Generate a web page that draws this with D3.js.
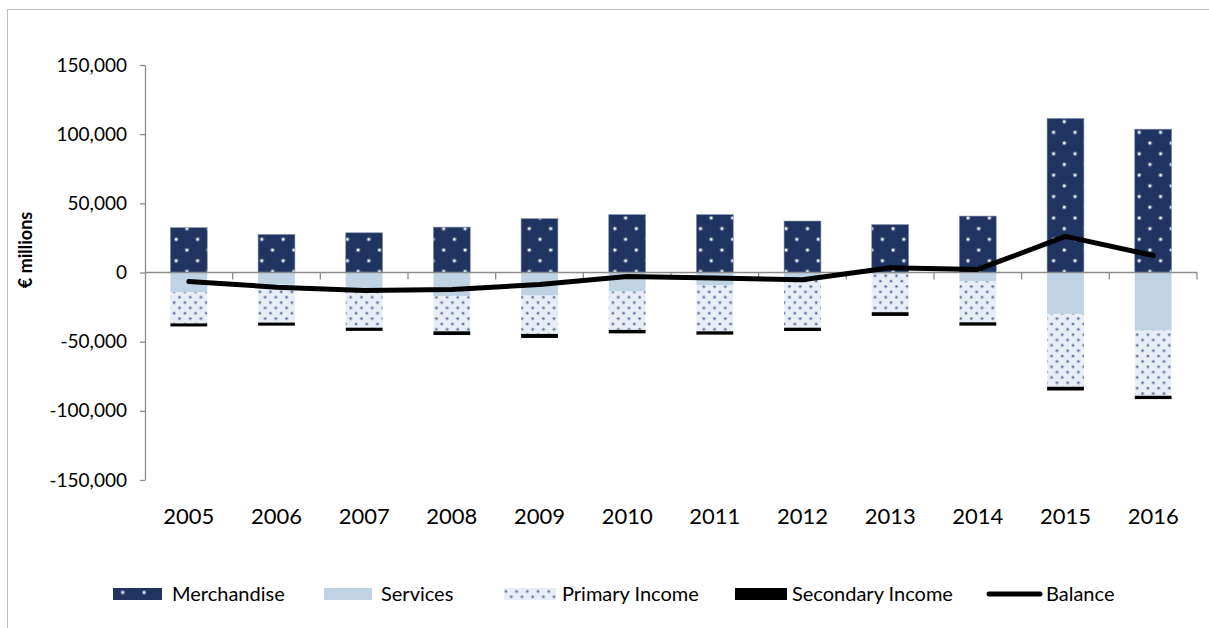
<!DOCTYPE html>
<html>
<head>
<meta charset="utf-8">
<script src="https://cdn.jsdelivr.net/npm/d3@7"></script>
<style>
  html, body { margin: 0; padding: 0; background: #ffffff; }
  svg { display: block; }
  text { font-family: Lato, "Open Sans", sans-serif; fill: #000; }
</style>
</head>
<body>
<svg id="chart" width="1209" height="628"></svg>
<script>
// ---- Data (€ millions) ----
const years = ["2005","2006","2007","2008","2009","2010","2011","2012","2013","2014","2015","2016"];
const merchandise = [32400, 27500, 28700, 32800, 38900, 41800, 41800, 37200, 34600, 40800, 111300, 103600];
const services    = [-14300, -8900, -11400, -17100, -16700, -13800, -9400, -3900, -1000, -6500, -29900, -42000];
const primaryIncome   = [-22500, -27300, -28500, -25400, -27700, -27700, -33100, -36000, -27700, -29500, -52700, -47100];
const secondaryIncome = [-2200, -2200, -2300, -2700, -2900, -2500, -2400, -2400, -2700, -2400, -2700, -2400];
const balance = [-6500, -10600, -13000, -12300, -8700, -2900, -3900, -5300, 3400, 2200, 26100, 12300];
const yTicks = [-150000, -100000, -50000, 0, 50000, 100000, 150000];
const legendLabels = ["Merchandise", "Services", "Primary Income", "Secondary Income", "Balance"];

const svg = d3.select("#chart");
const navy = "#1f3461", svc = "#bfd3e5", primBg = "#e9eef6", axisGrey = "#8c8c8c";

// outer frame
svg.append("rect").attr("x", 7.5).attr("y", 9.5).attr("width", 1400).attr("height", 800)
  .attr("fill", "none").attr("stroke", "#bcbcbc").attr("stroke-width", 1);

// patterns
const defs = svg.append("defs");
const pm = defs.append("pattern").attr("id", "pMerch").attr("patternUnits", "userSpaceOnUse")
  .attr("width", 21.4).attr("height", 21.4);
pm.append("rect").attr("width", 21.4).attr("height", 21.4).attr("fill", navy);
[[5, 4], [15.7, 14.7]].forEach(([cx, cy]) => {
  pm.append("circle").attr("cx", cx).attr("cy", cy).attr("r", 2.4).attr("fill", "#ffffff").attr("opacity", 0.3);
  pm.append("circle").attr("cx", cx).attr("cy", cy).attr("r", 1.3).attr("fill", "#ffffff").attr("opacity", 0.95);
});
const pp = defs.append("pattern").attr("id", "pPrim").attr("patternUnits", "userSpaceOnUse")
  .attr("width", 10.7).attr("height", 10.7);
pp.append("rect").attr("width", 10.7).attr("height", 10.7).attr("fill", primBg);
[[3, 3], [8.35, 8.35]].forEach(([cx, cy]) => {
  pp.append("circle").attr("cx", cx).attr("cy", cy).attr("r", 1.9).attr("fill", "#5a6f9c").attr("opacity", 0.35);
  pp.append("circle").attr("cx", cx).attr("cy", cy).attr("r", 1.0).attr("fill", "#3e5586").attr("opacity", 0.9);
});

// scales
const x = d3.scaleBand().domain(years).range([145, 1197]).paddingInner(0.58).paddingOuter(0.29);
const y = d3.scaleLinear().domain([-150000, 150000]).range([480, 65]);

// bars
const rows = years.map((yr, i) => ({ yr, m: merchandise[i], s: services[i], p: primaryIncome[i], sec: secondaryIncome[i] }));
const g = svg.append("g");
rows.forEach(d => {
  const bx = x(d.yr), bw = x.bandwidth();
  g.append("rect").attr("x", bx).attr("width", bw)
    .attr("y", y(d.m)).attr("height", y(0) - y(d.m))
    .attr("fill", "url(#pMerch)").attr("stroke", "#7d8ba6").attr("stroke-width", 0.6);
  let base = 0;
  const segs = [[d.s, svc], [d.p, "url(#pPrim)"], [d.sec, "#000000"]];
  segs.forEach(([v, fill]) => {
    const top = base, bot = base + v;
    g.append("rect").attr("x", bx).attr("width", bw)
      .attr("y", y(top)).attr("height", y(bot) - y(top)).attr("fill", fill);
    base = bot;
  });
});

// y axis
const yAxis = d3.axisLeft(y).tickValues(yTicks).tickSize(5).tickSizeOuter(0)
  .tickFormat(d => d3.format(",")(d).replace("\u2212", "-"));
const ya = svg.append("g").attr("transform", "translate(145,0)").call(yAxis);
ya.select(".domain").attr("stroke", axisGrey).attr("stroke-width", 1.3);
ya.selectAll(".tick line").attr("stroke", axisGrey).attr("stroke-width", 1.3);
ya.selectAll(".tick text").attr("x", -18).attr("font-size", 19).attr("font-family", "Lato").attr("fill", "#000");

// x axis at zero
const step = x.step();
svg.append("line").attr("x1", 145).attr("x2", 1197).attr("y1", y(0)).attr("y2", y(0))
  .attr("stroke", axisGrey).attr("stroke-width", 1.6);
years.forEach((yr, i) => {
  const tx = x(yr) + x.bandwidth() / 2 + step / 2;
  svg.append("line").attr("x1", tx).attr("x2", tx).attr("y1", y(0)).attr("y2", y(0) + 7)
    .attr("stroke", axisGrey).attr("stroke-width", 1.3);
  svg.append("text").attr("x", x(yr) + x.bandwidth() / 2).attr("y", 524)
    .attr("text-anchor", "middle").attr("font-size", 22).text(yr);
});

// balance line
const line = d3.line().x((d, i) => x(years[i]) + x.bandwidth() / 2).y(d => y(d)).curve(d3.curveLinear);
svg.append("path").datum(balance).attr("d", line).attr("fill", "none")
  .attr("stroke", "#000").attr("stroke-width", 5).attr("stroke-linecap", "round").attr("stroke-linejoin", "round");

// y title
svg.append("text").attr("transform", "translate(32,250) rotate(-90)").attr("text-anchor", "middle")
  .attr("font-size", 18).attr("font-weight", "bold").text("€ millions");

// legend
const lg = svg.append("g");
const ly = 594;
const items = [
  { x: 113, w: 49, type: "rect", fill: "url(#pMerch)", tx: 172 },
  { x: 324, w: 48, type: "rect", fill: svc, tx: 381 },
  { x: 504, w: 52, type: "rect", fill: "url(#pPrim)", tx: 562 },
  { x: 735, w: 52, type: "rect", fill: "#000", tx: 792 },
  { x: 987, w: 55, type: "line", tx: 1046 }
];
items.forEach((it, i) => {
  if (it.type === "rect") {
    lg.append("rect").attr("x", it.x).attr("y", ly - 6).attr("width", it.w).attr("height", 12).attr("fill", it.fill);
  } else {
    lg.append("line").attr("x1", it.x + 2).attr("x2", it.x + it.w - 2).attr("y1", ly).attr("y2", ly)
      .attr("stroke", "#000").attr("stroke-width", 5).attr("stroke-linecap", "round");
  }
  lg.append("text").attr("x", it.tx).attr("y", ly).attr("dy", "0.35em").attr("font-size", 20).text(legendLabels[i]);
});
</script>
</body>
</html>
